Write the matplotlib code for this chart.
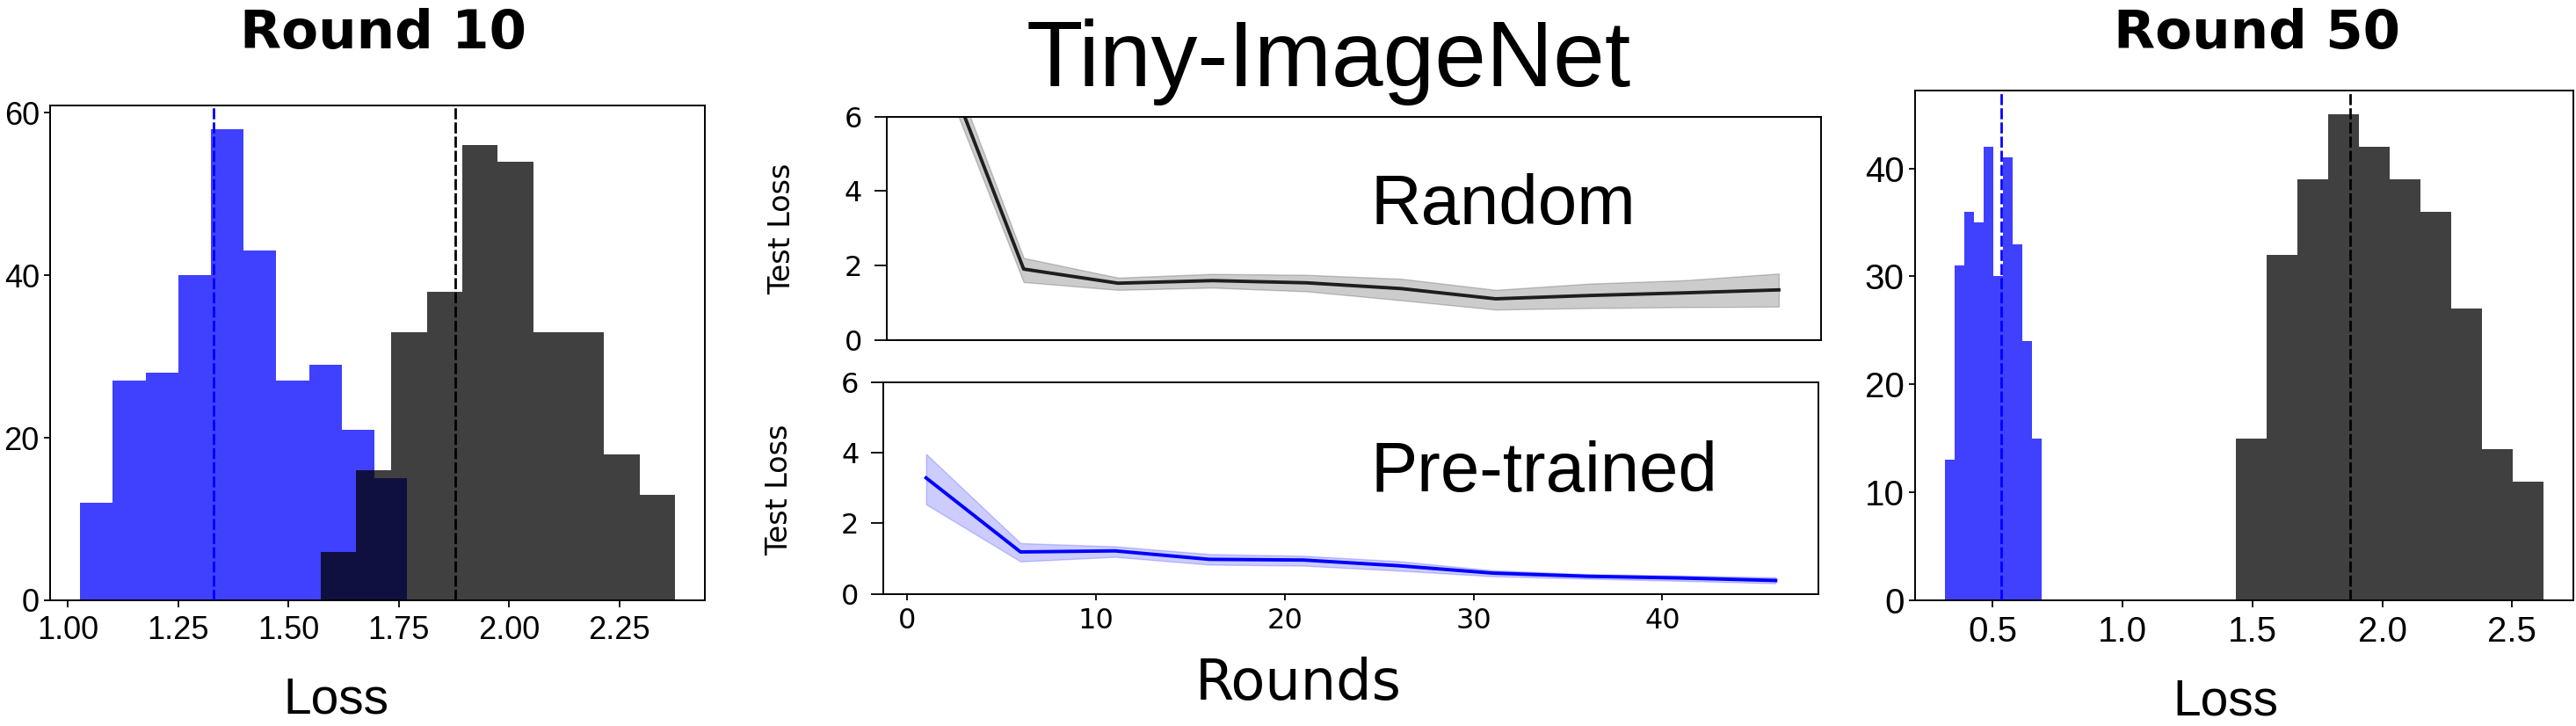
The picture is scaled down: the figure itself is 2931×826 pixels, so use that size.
import numpy as np
import matplotlib.pyplot as plt

# histogram data (bin range + counts per bin)
r10_blue_range = (1.028, 1.769)
r10_blue_counts = [12, 27, 28, 40, 58, 43, 27, 29, 21, 15]
r10_gray_range = (1.573, 2.376)
r10_gray_counts = [6, 16, 33, 38, 56, 54, 33, 33, 18, 13]
r10_means = (1.330, 1.879)

r50_blue_range = (0.316, 0.6875)
r50_blue_counts = [13, 31, 36, 35, 42, 30, 41, 33, 24, 15]
r50_gray_range = (1.437, 2.621)
r50_gray_counts = [15, 32, 39, 45, 42, 39, 36, 27, 14, 11]
r50_means = (0.531, 1.878)

# test loss curves
rounds = [1, 6, 11, 16, 21, 26, 31, 36, 41, 46]
random_loss = [8.46, 1.90, 1.52, 1.59, 1.53, 1.375, 1.10, 1.19, 1.26, 1.34]
random_hi = [8.9, 2.20, 1.67, 1.77, 1.745, 1.64, 1.34, 1.51, 1.60, 1.78]
random_lo = [8.0, 1.55, 1.34, 1.40, 1.30, 1.06, 0.81, 0.85, 0.875, 0.89]
pre_loss = [3.29, 1.19, 1.22, 0.98, 0.96, 0.80, 0.59, 0.50, 0.45, 0.38]
pre_hi = [3.97, 1.44, 1.35, 1.13, 1.08, 0.93, 0.67, 0.56, 0.52, 0.47]
pre_lo = [2.54, 0.92, 1.05, 0.83, 0.80, 0.66, 0.50, 0.43, 0.37, 0.30]

W, H = 2931, 826
NARROW = ['Liberation Sans Narrow', 'DejaVu Sans Condensed', 'Liberation Sans']
plt.rcParams['font.family'] = 'DejaVu Sans'

fig = plt.figure(figsize=(W / 100, H / 100), dpi=100)


def box(l, t, r, b):
    return [l / W, 1 - b / H, (r - l) / W, (b - t) / H]


def hist_panel(rect, blue_rng, blue_c, gray_rng, gray_c, means, xt, xl, yt, fs):
    ax = fig.add_axes(rect)
    be = np.linspace(blue_rng[0], blue_rng[1], len(blue_c) + 1)
    ge = np.linspace(gray_rng[0], gray_rng[1], len(gray_c) + 1)
    ax.hist(be[:-1], bins=be, weights=blue_c, color='blue', alpha=0.75, histtype='stepfilled', lw=0)
    ax.hist(ge[:-1], bins=ge, weights=gray_c, color='black', alpha=0.75, histtype='stepfilled', lw=0)
    ax.axvline(means[0], color='blue', ls=(0, (4.5, 1.3)), lw=2, zorder=3)
    ax.axvline(means[1], color='black', ls=(0, (4.5, 1.3)), lw=2, zorder=3)
    ax.set_xticks(xt, xl, fontsize=fs, fontfamily=NARROW)
    ax.set_yticks(yt, [str(v) for v in yt], fontsize=fs, fontfamily=NARROW)
    ax.tick_params(axis='x', length=5.5, width=1.3, pad=7)
    ax.tick_params(axis='y', length=5, width=1.3, pad=4)
    for s in ax.spines.values():
        s.set_linewidth(1.4)
    return ax


hist_panel(box(57.3, 120, 801.7, 683), r10_blue_range, r10_blue_counts,
           r10_gray_range, r10_gray_counts, r10_means,
           [1.0, 1.25, 1.5, 1.75, 2.0, 2.25], ['1.00', '1.25', '1.50', '1.75', '2.00', '2.25'],
           [0, 20, 40, 60], 26)
hist_panel(box(2179, 102.7, 2928, 682.7), r50_blue_range, r50_blue_counts,
           r50_gray_range, r50_gray_counts, r50_means,
           [0.5, 1.0, 1.5, 2.0, 2.5], ['0.5', '1.0', '1.5', '2.0', '2.5'],
           [0, 10, 20, 30, 40], 29)

# middle line panels
ax_top = fig.add_axes(box(1009, 132.7, 2072.3, 386.5))
ax_bot = fig.add_axes(box(1005.4, 435, 2068.7, 675.7))
for ax, y, lo, hi, c in [(ax_top, random_loss, random_lo, random_hi, 'black'),
                         (ax_bot, pre_loss, pre_lo, pre_hi, 'blue')]:
    ax.fill_between(rounds, lo, hi, color=c, alpha=0.2, lw=1)
    ax.plot(rounds, y, color=c, lw=2.8, alpha=0.85 if c == 'black' else 1)
    ax.set_xlim(-1.25, 48.25)
    ax.set_ylim(0, 6)
    ax.set_yticks([0, 2, 4, 6])
    ax.tick_params(axis='y', labelsize=23, length=10, width=1.3, pad=10)
    for s in ax.spines.values():
        s.set_linewidth(1.4)
ax_top.set_xticks([])
ax_bot.set_xticks([0, 10, 20, 30, 40])
ax_bot.tick_params(axis='x', labelsize=23, length=5, width=1.3, pad=6)

# texts
fig.text(436 / W, 1 - 55.3 / H, 'Round 10', ha='center', va='baseline', fontsize=44, fontweight='bold')
fig.text(2568 / W, 1 - 55.3 / H, 'Round 50', ha='center', va='baseline', fontsize=44, fontweight='bold')
fig.text(1512 / W, 1 - 97.5 / H, 'Tiny-ImageNet', ha='center', va='baseline', fontsize=76, family='Liberation Sans')
fig.text(1560 / W, 1 - 255.5 / H, 'Random', ha='left', va='baseline', fontsize=57.5, family='Liberation Sans')
fig.text(1560 / W, 1 - 559.5 / H, 'Pre-trained', ha='left', va='baseline', fontsize=57.5, family='Liberation Sans')
fig.text(1477.5 / W, 1 - 796 / H, 'Rounds', ha='center', va='baseline', fontsize=46)
fig.text(890 / W, 1 - 260 / H, 'Test Loss', ha='center', va='center', rotation=90, fontsize=24)
fig.text(887 / W, 1 - 557 / H, 'Test Loss', ha='center', va='center', rotation=90, fontsize=24)
fig.text(382 / W, 1 - 812 / H, 'Loss', ha='center', va='baseline', fontsize=41, family=NARROW)
fig.text(2532 / W, 1 - 814 / H, 'Loss', ha='center', va='baseline', fontsize=41, family=NARROW)

fig.savefig('out.png', dpi=100)
